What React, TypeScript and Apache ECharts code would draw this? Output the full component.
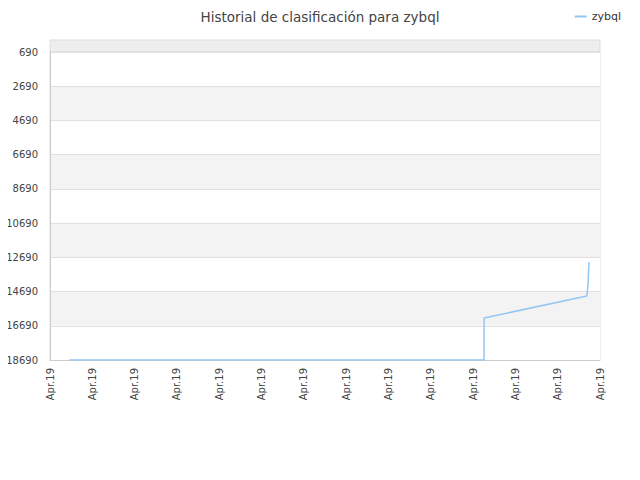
import React, { useEffect, useRef } from 'react';
import * as echarts from 'echarts';

const xTickCount = 13;
const xTickLabel = 'Apr.19';
const yTicks = [690, 2690, 4690, 6690, 8690, 10690, 12690, 14690, 16690, 18690];
const seriesName = 'zybql';
const xPositions = [0.45, 10.26, 10.26, 12.69, 12.72, 12.73, 12.74];
const ranks = [18690, 18690, 16235, 14950, 14190, 13490, 12960];

const App: React.FC = () => {
  const chartRef = useRef<HTMLDivElement>(null);

  useEffect(() => {
    if (!chartRef.current) return;
    const chart = echarts.init(chartRef.current, undefined, { renderer: 'svg' });
    const font = 'DejaVu Sans';

    const option: echarts.EChartsOption = {
      animation: false,
      textStyle: { fontFamily: font },
      title: {
        text: 'Historial de clasificación para zybql',
        left: 'center',
        top: 5,
        textStyle: { fontSize: 13.5, fontWeight: 'normal', color: '#444', fontFamily: font },
      },
      legend: {
        right: 14,
        top: 6,
        itemWidth: 12,
        itemHeight: 2,
        itemGap: 6,
        textStyle: { fontSize: 11, color: '#333', fontFamily: font },
        data: [{ name: seriesName, icon: 'rect' }],
      },
      grid: {
        left: 50,
        right: 40,
        top: 52,
        bottom: 120,
        show: true,
        borderColor: '#ddd',
        borderWidth: 1,
      },
      graphic: [
        {
          type: 'rect',
          shape: { x: 50, y: 40, width: 550, height: 12 },
          style: { fill: '#eeeeee', stroke: '#ddd', lineWidth: 1 },
          z: -1,
        },
      ],
      xAxis: {
        type: 'value',
        min: 0,
        max: xTickCount,
        interval: 1,
        axisLine: { show: true, lineStyle: { color: '#ccc' } },
        axisTick: { show: false },
        splitLine: { show: false },
        axisLabel: {
          rotate: 90,
          fontSize: 10,
          color: '#444',
          margin: 8,
          formatter: () => xTickLabel,
        },
      },
      yAxis: {
        type: 'value',
        inverse: true,
        min: yTicks[0],
        max: yTicks[yTicks.length - 1],
        interval: yTicks[1] - yTicks[0],
        axisLine: { show: true, lineStyle: { color: '#ccc' } },
        axisTick: { show: false },
        axisLabel: { fontSize: 10, color: '#444', margin: 12, formatter: (v: number) => String(v) },
        splitLine: { show: true, lineStyle: { color: '#e0e0e0' } },
        splitArea: { show: true, areaStyle: { color: ['#ffffff', '#f3f3f3'] } },
      },
      series: [
        {
          name: seriesName,
          type: 'line',
          data: xPositions.map((x, i) => [x, ranks[i]]),
          showSymbol: false,
          lineStyle: { color: '#94c6f2', width: 1.5 },
          itemStyle: { color: '#94c6f2' },
        },
      ],
    };

    chart.setOption(option);
    return () => chart.dispose();
  }, []);

  return <div ref={chartRef} style={{ width: 640, height: 480, margin: -8 }} />;
};

export default App;
